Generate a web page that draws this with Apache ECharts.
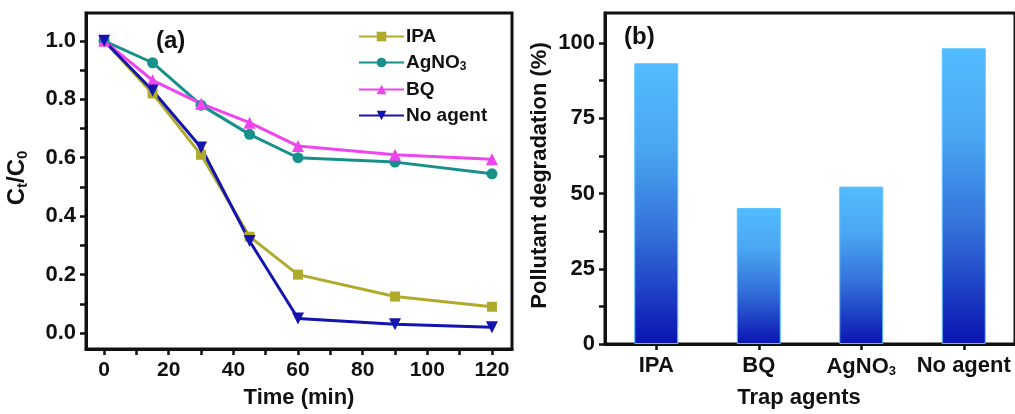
<!DOCTYPE html>
<html>
<head>
<meta charset="utf-8">
<script src="https://cdn.jsdelivr.net/npm/echarts@6/dist/echarts.min.js"></script>
<style>
html,body{margin:0;padding:0;background:#fff;}
#c{width:1015px;height:414px;}
</style>
</head>
<body>
<div id="c"></div>
<script>
// ---- Data ----
const timeMin = [0, 15, 30, 45, 60, 90, 120];
const ipaVals = [1.0, 0.82, 0.61, 0.33, 0.20, 0.125, 0.09];
const agno3Vals = [1.0, 0.925, 0.78, 0.68, 0.60, 0.585, 0.545];
const bqVals = [1.0, 0.865, 0.785, 0.72, 0.64, 0.61, 0.595];
const noAgentVals = [1.0, 0.83, 0.635, 0.315, 0.05, 0.03, 0.02];

const trapAgents = ['IPA', 'BQ', 'AgNO3', 'No agent'];
const degradation = [93.3, 45.2, 52.3, 98.3];

const xTickLabels = [0, 20, 40, 60, 80, 100, 120];
const xTicks = [0, 10, 20, 30, 40, 50, 60, 70, 80, 90, 100, 110, 120];
const yTickLabels = [0, 0.2, 0.4, 0.6, 0.8, 1.0];
const yTicks = [0, 0.1, 0.2, 0.3, 0.4, 0.5, 0.6, 0.7, 0.8, 0.9, 1.0];
const bTickLabels = [0, 25, 50, 75, 100];
const bTicks = [0, 12.5, 25, 37.5, 50, 62.5, 75, 87.5, 100];

// ---- Styles ----
const FONT = '"Liberation Sans", Arial, sans-serif';
const black = '#111';
const catRich = {
  a: {fontFamily: FONT, fontWeight: 'bold', fontSize: 22, color: black},
  s: {fontFamily: FONT, fontWeight: 'bold', fontSize: 13, color: black, padding: [10, 0, 0, 0]}
};
const nameRich = {
  a: {fontFamily: FONT, fontWeight: 'bold', fontSize: 24, color: black},
  s: {fontFamily: FONT, fontWeight: 'bold', fontSize: 15, color: black, padding: [11, 0, 0, 0]}
};
const legRich = {
  a: {fontFamily: FONT, fontWeight: 'bold', fontSize: 19, color: black},
  s: {fontFamily: FONT, fontWeight: 'bold', fontSize: 12, color: black, padding: [9, 0, 0, 0]}
};
function sub(name) {
  if (name === 'AgNO3') return '{a|AgNO}{s|3}';
  return '{a|' + name + '}';
}
const axisLine = {show: true, onZero: false, lineStyle: {color: black, width: 3}};
const tick = (vals) => ({show: true, inside: false, length: 6, customValues: vals, lineStyle: {color: black, width: 2.5}});
const labStyle = (size) => ({fontFamily: FONT, fontWeight: 'bold', fontSize: size, color: black});

const seriesDefs = [
  {name: 'IPA', data: ipaVals, color: '#b0aa2c', symbol: 'rect', size: 10},
  {name: 'AgNO3', data: agno3Vals, color: '#17908a', symbol: 'circle', size: 11},
  {name: 'BQ', data: bqVals, color: '#ee45ee', symbol: 'triangle', size: 12},
  {name: 'No agent', data: noAgentVals, color: '#1414b0', symbol: 'path://M0,0 L10,0 L5,9 Z', size: 12}
];

const chart = echarts.init(document.getElementById('c'), null, {renderer: 'canvas'});
chart.setOption({
  animation: false,
  backgroundColor: '#fff',
  grid: [
    {left: 86, top: 13, width: 426, height: 338, show: true, borderColor: black, borderWidth: 3, containLabel: false},
    {left: 605, top: 13, width: 420, height: 338, show: true, borderColor: black, borderWidth: 3, containLabel: false}
  ],
  legend: {
    data: seriesDefs.map(s => s.name),
    orient: 'vertical',
    left: 353,
    top: 22,
    itemWidth: 45,
    itemHeight: 12,
    itemGap: 7,
    formatter: sub,
    textStyle: {rich: legRich, padding: [0, 0, 0, -3]}
  },
  xAxis: [
    {
      type: 'value', gridIndex: 0, min: -5.6, max: 126.2,
      axisLine: axisLine, splitLine: {show: false},
      axisTick: tick(xTicks),
      axisLabel: Object.assign({customValues: xTickLabels, margin: 11}, labStyle(21)),
      name: 'Time (min)', nameLocation: 'middle', nameGap: 38,
      nameTextStyle: labStyle(22)
    },
    {
      type: 'category', gridIndex: 1, data: trapAgents, boundaryGap: true,
      axisLine: axisLine, splitLine: {show: false},
      axisTick: {show: true, alignWithLabel: true, length: 6, lineStyle: {color: black, width: 2.5}},
      axisLabel: {formatter: sub, rich: catRich, margin: 11, interval: 0},
      name: 'Trap agents', nameLocation: 'middle', nameGap: 43,
      nameTextStyle: Object.assign({padding: [0, 22, 0, 0]}, labStyle(22))
    }
  ],
  yAxis: [
    {
      type: 'value', gridIndex: 0, min: -0.0544, max: 1.0952,
      axisLine: axisLine, splitLine: {show: false},
      axisTick: tick(yTicks),
      axisLabel: Object.assign({customValues: yTickLabels, margin: 10, formatter: v => v.toFixed(1)}, labStyle(22)),
      name: '{a|C}{s|t}{a|/C}{s|0}', nameLocation: 'middle', nameGap: 56, nameRotate: 90,
      nameTextStyle: {rich: nameRich, padding: [0, 0, 0, 6]}
    },
    {
      type: 'value', gridIndex: 1, min: 0, max: 110,
      axisLine: axisLine, splitLine: {show: false},
      axisTick: tick(bTicks),
      axisLabel: Object.assign({customValues: bTickLabels, margin: 10}, labStyle(22)),
      name: 'Pollutant degradation (%)', nameLocation: 'middle', nameGap: 54, nameRotate: 90,
      nameTextStyle: Object.assign({padding: [0, 0, 0, 6]}, labStyle(22))
    }
  ],
  series: seriesDefs.map(s => ({
    name: s.name, type: 'line', xAxisIndex: 0, yAxisIndex: 0,
    data: timeMin.map((t, i) => [t, s.data[i]]),
    symbol: s.symbol, symbolSize: s.size,
    lineStyle: {color: s.color, width: 3},
    itemStyle: {color: s.color},
    color: s.color
  })).concat([{
    type: 'bar', xAxisIndex: 1, yAxisIndex: 1, data: degradation, barWidth: 44,
    itemStyle: {
      borderColor: '#5cc3ff', borderWidth: 1,
      color: new echarts.graphic.LinearGradient(0, 0, 0, 1, [
        {offset: 0, color: '#52bcff'},
        {offset: 0.3, color: '#4aa6f2'},
        {offset: 0.6, color: '#3472da'},
        {offset: 1, color: '#0a14b2'}
      ])
    }
  }]),
  graphic: [
    {type: 'text', left: 156, top: 29, style: {text: '(a)', font: 'bold 24px ' + FONT, fill: black}},
    {type: 'text', left: 624, top: 25, style: {text: '(b)', font: 'bold 24px ' + FONT, fill: black}}
  ]
});
</script>
</body>
</html>
